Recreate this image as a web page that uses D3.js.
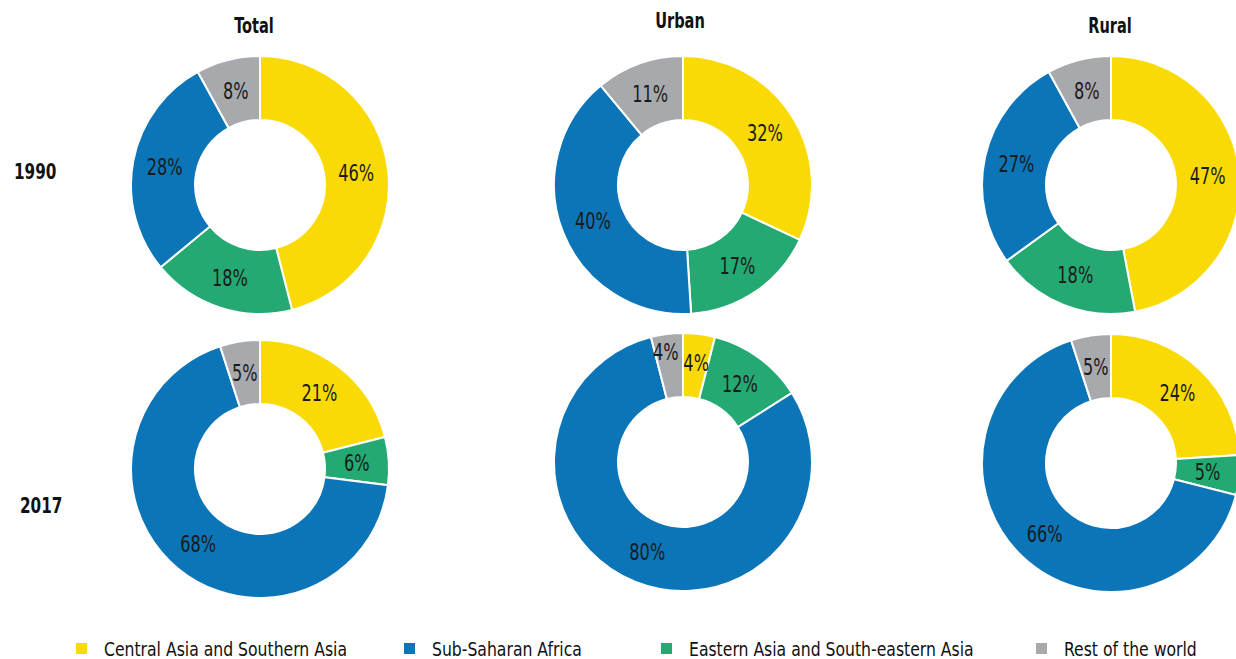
<!DOCTYPE html>
<html>
<head>
<meta charset="utf-8">
<script src="https://cdn.jsdelivr.net/npm/d3@7"></script>
<style>
  html, body { margin: 0; padding: 0; background: #fff; overflow: hidden; }
  svg { display: block; font-family: "Liberation Sans Narrow", "DejaVu Sans Condensed", "Arial Narrow", sans-serif; }
</style>
</head>
<body>
<svg id="chart" width="1236" height="659"></svg>
<script>
// ---- Data ----
const columns = ["Total", "Urban", "Rural"];
const years = ["1990", "2017"];
// Regions in slice order (clockwise from 12 o'clock)
const sliceRegions = ["Central Asia and Southern Asia", "Eastern Asia and South-eastern Asia", "Sub-Saharan Africa", "Rest of the world"];
// Legend order
const legendRegions = ["Central Asia and Southern Asia", "Sub-Saharan Africa", "Eastern Asia and South-eastern Asia", "Rest of the world"];
// Values per chart: [Total 1990, Urban 1990, Rural 1990, Total 2017, Urban 2017, Rural 2017]
const centralSouthernAsia = [46, 32, 47, 21, 4, 24];
const easternSoutheasternAsia = [18, 17, 18, 6, 12, 5];
const subSaharanAfrica = [28, 40, 27, 68, 80, 66];
const restOfWorld = [8, 11, 8, 5, 4, 5];

const colors = {
  "Central Asia and Southern Asia": "#FADA05",
  "Sub-Saharan Africa": "#0B75B7",
  "Eastern Asia and South-eastern Asia": "#24A973",
  "Rest of the world": "#A8A9AD"
};

// ---- Layout ----
const svg = d3.select("#chart");
const colX = [260, 683, 1111];
const rowY = [185, 466];
const rowYAdj = [[0, 0, 0], [3, -4, -3]];
const outerR = 129, innerR = 65;
const LABEL_SX = 0.78, TITLE_SX = 0.77, LEGEND_SX = 0.87;
// label nudges to avoid collisions of tiny neighbouring slices (chart index -> region -> [dx, dy])
const labelNudge = { 4: { "Rest of the world": [-5, -14], "Central Asia and Southern Asia": [1, -3] } };

const seriesByRegion = {
  "Central Asia and Southern Asia": centralSouthernAsia,
  "Eastern Asia and South-eastern Asia": easternSoutheasternAsia,
  "Sub-Saharan Africa": subSaharanAfrica,
  "Rest of the world": restOfWorld
};

const pie = d3.pie().sort(null).value(d => d.value);
const arc = d3.arc().innerRadius(innerR).outerRadius(outerR);

years.forEach((yr, r) => {
  columns.forEach((col, c) => {
    const idx = r * columns.length + c;
    const data = sliceRegions.map(reg => ({ region: reg, value: seriesByRegion[reg][idx] }));
    const g = svg.append("g")
      .attr("transform", `translate(${colX[c]},${rowY[r] + rowYAdj[r][c]})`);
    const arcs = pie(data);
    g.selectAll("path").data(arcs).join("path")
      .attr("d", arc)
      .attr("fill", d => colors[d.data.region])
      .attr("stroke", "#fff")
      .attr("stroke-width", 2);
    g.selectAll("text").data(arcs).join("text")
      .attr("transform", d => {
        const [cx, cy] = arc.centroid(d);
        const n = (labelNudge[idx] && labelNudge[idx][d.data.region]) || [0, 0];
        return `translate(${cx + n[0]},${cy + n[1]}) scale(${LABEL_SX},1)`;
      })
      .attr("text-anchor", "middle")
      .attr("dy", "0.36em")
      .attr("font-size", 23)
      .attr("fill", "#1a1a1a")
      .text(d => d.data.value + "%");
  });
});

// Column titles
const titleX = [254, 680, 1110];
const titleBaseline = [33, 28, 33];
svg.selectAll(".coltitle").data(columns).join("text")
  .attr("class", "coltitle")
  .attr("transform", (d, i) => `translate(${titleX[i]},${titleBaseline[i]}) scale(${TITLE_SX},1)`)
  .attr("text-anchor", "middle")
  .attr("font-weight", "bold")
  .attr("font-size", 21)
  .attr("fill", "#111")
  .text(d => d);

// Row labels
const rowLabelX = [14, 20];
const rowLabelBaseline = [179, 513];
svg.selectAll(".rowlabel").data(years).join("text")
  .attr("class", "rowlabel")
  .attr("transform", (d, i) => `translate(${rowLabelX[i]},${rowLabelBaseline[i]}) scale(${TITLE_SX},1)`)
  .attr("font-weight", "bold")
  .attr("font-size", 22)
  .attr("fill", "#111")
  .text(d => d);

// Legend
const legendX = [76, 404, 661, 1036];
const legend = svg.selectAll(".legend").data(legendRegions).join("g")
  .attr("class", "legend")
  .attr("transform", (d, i) => `translate(${legendX[i]},643)`);
legend.append("rect")
  .attr("width", 11).attr("height", 11)
  .attr("fill", d => colors[d]);
legend.append("text")
  .attr("transform", `translate(28,13) scale(${LEGEND_SX},1)`)
  .attr("font-size", 20)
  .attr("fill", "#111")
  .text(d => d);
</script>
</body>
</html>
